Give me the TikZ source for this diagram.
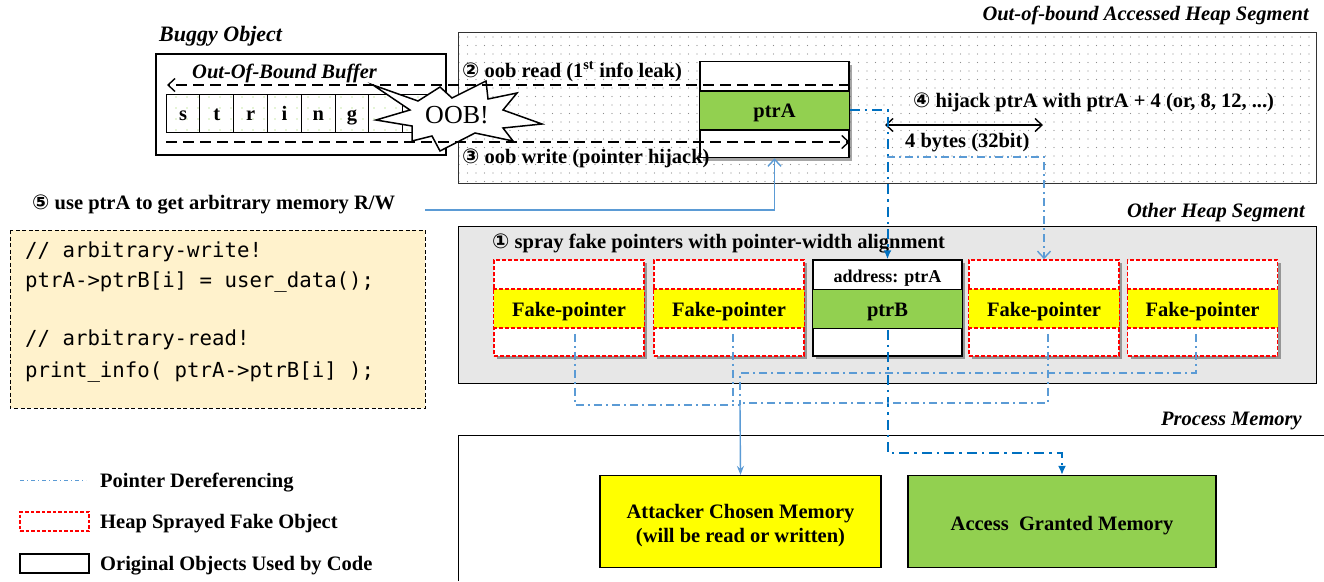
\documentclass[tikz,border=0pt]{standalone}
\usepackage{fontspec}
\setmainfont{Liberation Serif}
\newfontfamily\symfont{DejaVu Sans}
\newfontfamily\codefont{DejaVu Sans Mono}
\usetikzlibrary{arrows.meta,shadows,patterns.meta,calc}
\definecolor{lblue}{RGB}{91,155,213}
\definecolor{dblue}{RGB}{0,112,192}
\definecolor{pgreen}{RGB}{146,208,80}
\definecolor{pyellow}{RGB}{255,255,0}
\definecolor{beige}{RGB}{255,242,204}
\definecolor{lgrey}{RGB}{231,231,231}
\newcommand\cnum[1]{{\symfont #1}}
\begin{document}
\begin{tikzpicture}[x=1pt,y=-1pt,
  lbl/.style={font=\fontsize{20.5}{24}\selectfont\bfseries, inner sep=0pt, anchor=base west},
  clbl/.style={font=\fontsize{20.5}{24}\selectfont\bfseries, inner sep=0pt, anchor=base},
  ttl/.style={font=\fontsize{20.5}{24}\selectfont\bfseries\itshape, inner sep=0pt},
  codetxt/.style={font=\fontsize{20.7}{24}\codefont, inner sep=0pt, anchor=base west},
  blackdash/.style={line width=1.4pt, dash pattern=on 11pt off 6pt},
  ptrline/.style={lblue, line width=1.4pt, dash pattern=on 8pt off 4pt on 2pt off 4pt},
  ptrdark/.style={dblue, line width=2pt, dash pattern=on 10pt off 5pt on 2.5pt off 5pt},
  shad/.style={drop shadow={shadow xshift=3pt, shadow yshift=-3pt, opacity=0.35, fill=black}},
  fakebox/.style={draw=red, fill=white, dash pattern=on 4pt off 2pt, line width=1.6pt,
     minimum width=150pt, minimum height=96pt, inner sep=0pt, shad},
  objbox/.style={draw=black, fill=white, line width=1.5pt,
     minimum width=149pt, minimum height=96pt, inner sep=0pt, shad},
  barb/.style={-{Straight Barb[length=7pt,width=13pt]}},
]
\useasboundingbox (0,0) rectangle (1324,581);

% ---------- Out-of-bound accessed heap segment ----------
\draw[line width=1pt, draw=black!80, preaction={fill=white},
      pattern={Dots[distance=8.5pt,radius=0.65pt]}, pattern color=black!45]
  (458,32) rectangle (1316,183);
\node[ttl, anchor=base east] (ttlseg1) at (1309,20) {Out-of-bound Accessed Heap Segment};

% ---------- Buggy object ----------
\node[ttl, anchor=base west, font=\fontsize{22}{26}\selectfont\bfseries\itshape] (ttlbug) at (159,41) {Buggy Object};
\draw[line width=1.5pt, fill=white] (156,54) rectangle (446,155);
\node[ttl, anchor=base west] (oobbuf) at (192,78) {Out-Of-Bound Buffer};
\foreach \i in {0,...,7}
  \draw[line width=1pt, preaction={fill=white}, pattern={Dots[distance=11pt,radius=0.7pt]}, pattern color=pgreen]
    ({166+33.8*\i},94) rectangle ({199.8+33.8*\i},132);
\foreach \c [count=\i from 0] in {s,t,r,i,n,g}
  \node[clbl] (ch\i) at ({183+33.8*\i},120) {\c};

% ---------- ptrA object ----------
\node[objbox] (ptrA) at (774.5,109.5) {};
\fill[pgreen] ($(ptrA.north west)+(0.75,30)$) rectangle ($(ptrA.north east)+(-0.75,69)$);
\draw[line width=1.5pt] ($(ptrA.north west)+(0,30)$) -- ($(ptrA.north east)+(0,30)$)
                        ($(ptrA.north west)+(0,69)$) -- ($(ptrA.north east)+(0,69)$);
\node[clbl] (ptrAt) at ($(ptrA.north)+(0,57)$) {ptrA};

% ---------- OOB star ----------
\draw[line width=1.5pt, fill=white] (373,85) -- (418,101) -- (440,87) -- (452,98) -- (486,81)
  -- (488,99) -- (517,93) -- (503,110) -- (542,124) -- (503,128) -- (513,141) -- (475,133)
  -- (440,151) -- (432,136) -- (412,141) -- (412,126) -- (376,120)
  -- (410,110) -- cycle;
\node[inner sep=0pt, anchor=base, font=\fontsize{26}{30}\selectfont] (oob) at (457,123) {OOB!};

% dashed oob read / write
\coordinate (rdL) at (167,85);
\coordinate (wrL) at (166,142);
\draw[blackdash, barb] (ptrA.east |- rdL) -- (rdL);
\draw[blackdash, barb] (wrL) -- (ptrA.east |- wrL);
\node[lbl] (lread) at (462,77) {\cnum{②} oob read (1\textsuperscript{st} info leak)};
\node[lbl] (lwrite) at (462,163) {\cnum{③} oob write (pointer hijack)};

% step 4
\node[lbl] (l4) at (913,107) {\cnum{④} hijack ptrA with ptrA + 4 (or, 8, 12, ...)};
\coordinate (b4a) at (885,125);
\coordinate (b4b) at (1043,125);
\draw[line width=1.4pt, {Straight Barb[length=7pt,width=13pt]}-{Straight Barb[length=7pt,width=13pt]}] (b4a) -- (b4b);
\node[lbl] (l4b) at (905,147) {4 bytes (32bit)};

% ---------- step 5 + code ----------
\node[lbl] (l5) at (32,209) {\cnum{⑤} use ptrA to get arbitrary memory R/W};
\draw[line width=1pt, fill=beige, dash pattern=on 4pt off 2.5pt] (10,230) rectangle (425,408);
\node[codetxt] (code1) at (25,257) {// arbitrary-write!};
\node[codetxt] (code2) at (25,287) {ptrA->ptrB[i] = user\_data();};
\node[codetxt] (code3) at (25,345) {// arbitrary-read!};
\node[codetxt] (code4) at (25,377) {print\_info( ptrA->ptrB[i] );};

% ---------- Other heap segment ----------
\node[ttl, anchor=base east] (ttlseg2) at (1305,217) {Other Heap Segment};
\draw[line width=1pt, fill=lgrey] (458,226) rectangle (1316,383);
\node[lbl] (l1) at (492,248) {\cnum{①} spray fake pointers with pointer-width alignment};

\foreach \n/\x in {f1/569, f2/729, f4/1044, f5/1202.5} {
  \node[fakebox] (\n) at (\x,308) {};
  \fill[pyellow] ($(\n.north west)+(0.8,30)$) rectangle ($(\n.north east)+(-0.8,69)$);
  \draw[red, line width=1.6pt, dash pattern=on 4pt off 2pt]
     ($(\n.north west)+(0,30)$) -- ($(\n.north east)+(0,30)$)
     ($(\n.north west)+(0,69)$) -- ($(\n.north east)+(0,69)$);
  \node[clbl] (\n t) at ($(\n.north)+(0,57)$) {Fake-pointer};
}
\node[objbox] (ptrB) at (887.5,308) {};
\fill[pgreen] ($(ptrB.north west)+(0.75,30)$) rectangle ($(ptrB.north east)+(-0.75,69)$);
\draw[line width=1.5pt] ($(ptrB.north west)+(0,30)$) -- ($(ptrB.north east)+(0,30)$)
                        ($(ptrB.north west)+(0,69)$) -- ($(ptrB.north east)+(0,69)$);
\node[clbl] (ptrBt) at ($(ptrB.north)+(0,57)$) {ptrB};
\node[clbl, font=\fontsize{18}{22}\selectfont\bfseries] (ptrBa) at ($(ptrB.north)+(0,23)$) {address: ptrA};

% ---------- Process memory ----------
\node[ttl, anchor=base east] (ttlseg3) at (1302,425) {Process Memory};
\draw[line width=1pt] (458,581) -- (458,435) -- (1324,435);
\node[draw, line width=1.2pt, fill=pyellow, minimum width=281pt, minimum height=92pt, inner sep=0pt] (att) at (740.5,521.5) {};
\node[clbl] (att1) at (740.5,518) {Attacker Chosen Memory};
\node[clbl] (att2) at (740.5,542) {(will be read or written)};
\node[draw, line width=1.2pt, fill=pgreen, minimum width=308pt, minimum height=92pt, inner sep=0pt] (acc) at (1062,521.5) {};
\node[clbl] (acct) at (1062,530) {Access\ \ Granted Memory};

% ---------- pointer connectors ----------
\draw[lblue, line width=1.4pt, barb] (425,210) coordinate (u5) -| (ptrA.south);
\draw[ptrdark, -{Latex[length=9pt,width=8pt]}] (ptrA.east) -| (ptrB.north);
\coordinate (br) at (887,157);
\draw[ptrline, barb] (br) -| (f4.north);
\draw[ptrdark, -{Latex[length=9pt,width=8pt]}] ($(ptrB.south)+(0,-27)$) |- ($(acc.north)+(0,-22)$) -- (acc.north);

\coordinate (m1) at (740,405);
\draw[ptrline] ($(f1.south)+(6,-23)$) |- (m1);
\draw[ptrline] ($(f2.south)+(4,-23)$) -- ++(0,70);
\draw[ptrline] ($(f4.south)+(4,-23)$) |- (740,403);
\draw[ptrline] ($(f5.south)+(-6.5,-23)$) |- (740,373) -- (m1);
\draw[lblue, line width=1.4pt, -{Stealth[length=9pt,width=7pt]}] (m1) -- (att.north);

% ---------- Legend ----------
\draw[lblue, line width=1pt, dash pattern=on 4pt off 3pt on 1pt off 3pt] (20,480) -- (86,480);
\node[lbl] (lg1) at (100,487) {Pointer Dereferencing};
\node[draw=red, line width=1.3pt, dash pattern=on 3.5pt off 2pt, minimum width=69pt, minimum height=19pt, inner sep=0pt] (lgbox2) at (54.5,521.5) {};
\node[lbl] (lg2) at (100,528) {Heap Sprayed Fake Object};
\node[draw, line width=1.3pt, minimum width=69pt, minimum height=19pt, inner sep=0pt] (lgbox3) at (54.5,563.5) {};
\node[lbl] (lg3) at (100,570) {Original Objects Used by Code};
\end{tikzpicture}
\end{document}
